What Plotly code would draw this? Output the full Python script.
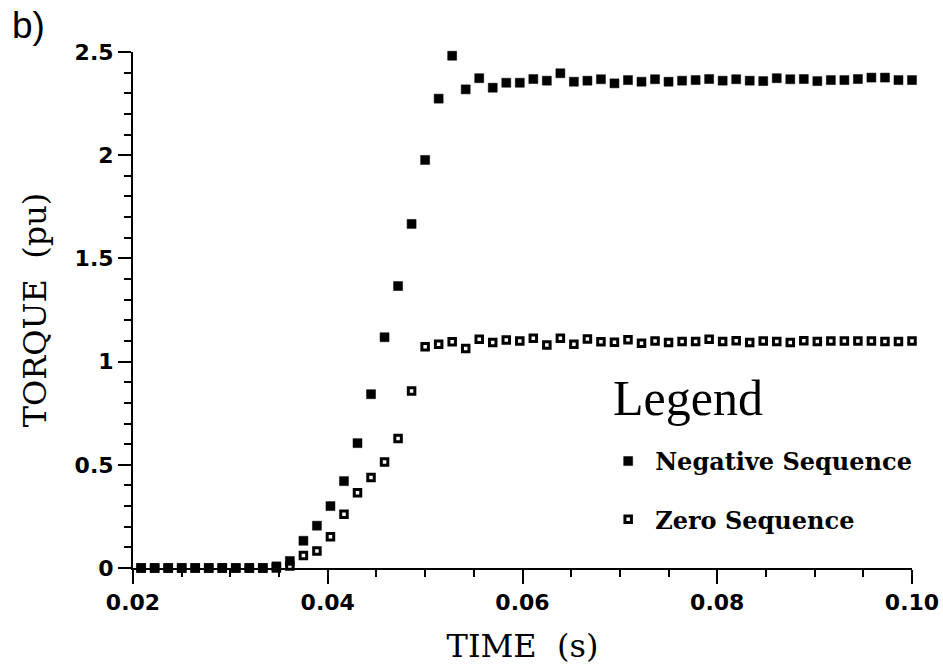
import plotly.graph_objects as go

# Sample times (s), 720 samples per second
time_s = [
    0.020833, 0.022222, 0.023611, 0.025, 0.026389, 0.027778, 0.029167, 0.030556,
    0.031944, 0.033333, 0.034722, 0.036111, 0.0375, 0.038889, 0.040278, 0.041667,
    0.043056, 0.044444, 0.045833, 0.047222, 0.048611, 0.05, 0.051389, 0.052778,
    0.054167, 0.055556, 0.056944, 0.058333, 0.059722, 0.061111, 0.0625, 0.063889,
    0.065278, 0.066667, 0.068056, 0.069444, 0.070833, 0.072222, 0.073611, 0.075,
    0.076389, 0.077778, 0.079167, 0.080556, 0.081944, 0.083333, 0.084722, 0.086111,
    0.0875, 0.088889, 0.090278, 0.091667, 0.093056, 0.094444, 0.095833, 0.097222,
    0.098611, 0.1,
]

# Negative sequence torque (pu)
negative_seq = [
    0, 0, 0, 0, 0, 0, 0, 0, 0, 0,
    0.008, 0.034, 0.132, 0.205, 0.300, 0.421, 0.605, 0.842, 1.118, 1.366,
    1.667, 1.977, 2.274, 2.482, 2.319, 2.373, 2.327, 2.351, 2.351, 2.369,
    2.361, 2.397, 2.356, 2.361, 2.368, 2.348, 2.364, 2.356, 2.368, 2.356,
    2.361, 2.364, 2.369, 2.361, 2.368, 2.361, 2.359, 2.373, 2.368, 2.369,
    2.359, 2.364, 2.364, 2.369, 2.376, 2.376, 2.364, 2.364,
]

# Zero sequence torque (pu)
zero_seq = [
    0, 0, 0, 0, 0, 0, 0, 0, 0, 0, 0,
    0.010, 0.060, 0.082, 0.152, 0.260, 0.365, 0.438, 0.514, 0.628,
    0.858, 1.072, 1.084, 1.096, 1.064, 1.108, 1.092, 1.105, 1.100, 1.113,
    1.080, 1.113, 1.084, 1.110, 1.096, 1.094, 1.106, 1.089, 1.100, 1.093,
    1.097, 1.097, 1.108, 1.097, 1.101, 1.093, 1.100, 1.097, 1.093, 1.101,
    1.097, 1.100, 1.100, 1.100, 1.100, 1.097, 1.097, 1.100,
]

x_tick_vals = [0.02, 0.04, 0.06, 0.08, 0.10]
x_tick_text = ["0.02", "0.04", "0.06", "0.08", "0.10"]
y_tick_vals = [0, 0.5, 1, 1.5, 2, 2.5]
y_tick_text = ["0", "0.5", "1", "1.5", "2", "2.5"]

TICK_FONT = dict(family="DejaVu Sans", size=22, color="black", weight="bold")
SERIF = "DejaVu Serif"

fig = go.Figure()

fig.add_trace(go.Scatter(
    x=time_s, y=zero_seq, mode="markers", name="Zero Sequence",
    legendgroup="zero", legendrank=2,
    marker=dict(symbol="square-open", size=6.5, color="black",
                line=dict(width=3, color="black")),
    cliponaxis=False,
))
fig.add_trace(go.Scatter(
    x=time_s, y=negative_seq, mode="markers", name="Negative Sequence",
    legendgroup="neg", legendrank=1,
    marker=dict(symbol="square", size=9, color="black",
                line=dict(width=0.5, color="black")),
    cliponaxis=False,
))

fig.update_layout(
    width=943, height=665,
    margin=dict(l=133, r=31, t=52, b=97),
    paper_bgcolor="white", plot_bgcolor="white",
    showlegend=True,
    legend=dict(
        x=0.601, y=0.250, xanchor="left", yanchor="top",
        bgcolor="rgba(0,0,0,0)", borderwidth=0,
        font=dict(family=SERIF, size=24, color="black", weight="bold"),
        tracegroupgap=24, itemsizing="trace", itemwidth=44,
    ),
    annotations=[
        dict(
            text="b)", xref="paper", yref="paper", x=-0.158, y=1.095,
            xanchor="left", yanchor="top", showarrow=False,
            font=dict(family="Liberation Sans", size=37, color="black"),
        ),
        dict(
            text="Legend", xref="paper", yref="paper", x=0.613, y=0.33,
            xanchor="left", yanchor="middle", showarrow=False,
            font=dict(family="Liberation Serif", size=50, color="black"),
        ),
    ],
)

fig.update_xaxes(
    range=[0.02, 0.10], tickvals=x_tick_vals, ticktext=x_tick_text,
    showgrid=False, zeroline=False, automargin=False,
    showline=True, linecolor="black", linewidth=2,
    ticks="outside", ticklen=14, tickwidth=2, tickcolor="black",
    tickfont=TICK_FONT,
    minor=dict(dtick=0.005, tick0=0.02, ticks="outside", ticklen=7,
               tickwidth=2, tickcolor="black", showgrid=False),
    title=dict(text="TIME\u00a0\u00a0(s)", font=dict(family=SERIF, size=32, color="black"),
               standoff=21),
)
fig.update_yaxes(
    range=[0, 2.5], tickvals=y_tick_vals, ticktext=y_tick_text,
    showgrid=False, zeroline=False, automargin=False,
    showline=True, linecolor="black", linewidth=2,
    ticks="outside", ticklen=13, tickwidth=2, tickcolor="black",
    tickfont=TICK_FONT,
    minor=dict(dtick=0.1, tick0=0, ticks="outside", ticklen=7,
               tickwidth=2, tickcolor="black", showgrid=False),
    title=dict(text="TORQUE\u00a0\u00a0(pu)", font=dict(family=SERIF, size=32, color="black"),
               standoff=18),
)

fig.write_html("out.html")
